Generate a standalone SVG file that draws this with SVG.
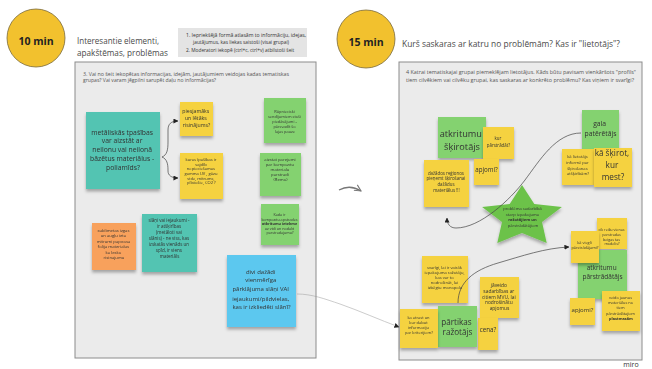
<svg xmlns="http://www.w3.org/2000/svg" width="652" height="369" viewBox="0 0 652 369">
<style>
  text { font-family: "Open Sans", "Liberation Sans", sans-serif; fill: #333; }
  .c { text-anchor: middle; }
  .title { fill: #4a4a4a; }
  .time { font-weight: bold; font-size: 10.5px; fill: #222; text-anchor: middle; }
  .panel { fill: #ebebeb; stroke: #8c8c8c; stroke-width: 1; }
  .hdr { font-size: 5.1px; fill: #555; }
  .y { fill: #f5d23f; }
  .g { fill: #84d270; }
  .t { fill: #52c4b2; }
  .b { fill: #5cc8ef; }
  .o { fill: #f8a15c; }
  .note { filter: url(#sh); }
  .conn { fill: none; stroke: #444; stroke-width: 0.7; }
</style>
<defs>
  <filter id="sh" x="-20%" y="-20%" width="140%" height="150%">
    <feDropShadow dx="0" dy="2.5" stdDeviation="1.6" flood-color="#000" flood-opacity="0.3"/>
  </filter>
  <marker id="ah" viewBox="0 0 6 6" refX="5.5" refY="3" markerWidth="5" markerHeight="5" markerUnits="userSpaceOnUse" orient="auto">
    <path d="M0,0 L6,3 L0,6 z" fill="#222"/>
  </marker>
  <marker id="big" viewBox="0 0 10 10" refX="9" refY="5" markerWidth="8" markerHeight="8" markerUnits="userSpaceOnUse" orient="auto">
    <path d="M1,1 L9,5 L1,9" fill="none" stroke="#777" stroke-width="1.3"/>
  </marker>
</defs>
<rect width="652" height="369" fill="#ffffff"/>

<!-- Left header -->
<g id="timer10">
  <circle cx="36" cy="38" r="29" fill="#f2c12e" stroke="#7a6a3a" stroke-width="0.8"/>
  <text class="time" x="36" y="45">10 min</text>
</g>
<g id="title-left">
  <text class="title" x="77" y="43.5" font-size="9" textLength="82" lengthAdjust="spacingAndGlyphs">Interesantie elementi,</text>
  <text class="title" x="77" y="55.5" font-size="9" textLength="91" lengthAdjust="spacingAndGlyphs">apakštēmas, problēmas</text>
</g>
<g id="instructions">
  <rect x="178" y="28" width="129" height="29" fill="#e4e4e4"/>
  <text x="186" y="36.8" font-size="4.8" fill="#555" textLength="120" lengthAdjust="spacingAndGlyphs">1. Iepriekšējā formā atlasām to informāciju, idejas,</text>
  <text x="193" y="44.3" font-size="4.8" fill="#555">jautājumus, kas liekas saistoši (visai grupai)</text>
  <text x="186" y="51.8" font-size="4.8" fill="#555">2. Moderatori iekopē (ctrl+c, ctrl+v) atbilstoši šeit</text>
</g>

<!-- Left panel -->
<g id="panel-left">
  <rect class="panel" x="75" y="62" width="241" height="296"/>
  <text class="hdr" x="83" y="75.5" textLength="206" lengthAdjust="spacingAndGlyphs">3. Vai no šeit iekopētas informacijas, idejām, jautājumiem veidojas kadas tematiskas</text>
  <text class="hdr" x="83" y="82">grupas? Vai varam jēgpilni sarupēt daļu no informācijas?</text>
</g>

<g id="note-metaliskas" class="note">
  <rect class="t" x="86" y="112" width="74" height="77"/>
  <text class="c" font-size="6.8" x="123">
    <tspan x="123" y="134.5">metāliskās tpašības</tspan>
    <tspan x="123" y="143.3">var aizstāt ar</tspan>
    <tspan x="123" y="152.1">neilonu vai neilonā</tspan>
    <tspan x="123" y="160.9">bāzētus materiālus -</tspan>
    <tspan x="123" y="169.7">poliamīds?</tspan>
  </text>
</g>
<g id="note-piesjamaks" class="note">
  <rect class="y" x="180" y="102" width="33" height="34"/>
  <text class="c" font-size="5.2">
    <tspan x="196.5" y="112.5">piesjamāks</tspan>
    <tspan x="196.5" y="119.5">un lētāks</tspan>
    <tspan x="196.5" y="127">risinājums?</tspan>
  </text>
</g>
<g id="note-kuras" class="note">
  <rect class="y" x="180" y="153" width="43" height="46"/>
  <text class="c" font-size="4.1">
    <tspan x="201.5" y="160.8">kuras īpašības ir</tspan>
    <tspan x="201.5" y="165.5">vajdīb</tspan>
    <tspan x="201.5" y="170">nepieciešamas</tspan>
    <tspan x="201.5" y="174.8">gamma UV , gāzu</tspan>
    <tspan x="201.5" y="179.6">vide, mitrums,</tspan>
    <tspan x="201.5" y="184.4">plīstošie, CO2 ?</tspan>
  </text>
</g>
<g id="note-rupnieciski" class="note">
  <rect class="g" x="264" y="98" width="42" height="45"/>
  <text class="c" font-size="3.9">
    <tspan x="285" y="113.4">Rūpnieciski</tspan>
    <tspan x="285" y="118.2">sendījumiem stoši</tspan>
    <tspan x="285" y="123">piedāvājumi -</tspan>
    <tspan x="285" y="127.8">pārsvadīt šo</tspan>
    <tspan x="285" y="132.6">lajas pauze</tspan>
  </text>
</g>
<g id="note-aizstat" class="note">
  <rect class="g" x="260" y="153" width="41" height="43"/>
  <text class="c" font-size="4.2">
    <tspan x="280.5" y="160.5">aizstāt pārējumi</tspan>
    <tspan x="280.5" y="165.5">par kompozītu</tspan>
    <tspan x="280.5" y="170.5">materiālu</tspan>
    <tspan x="280.5" y="175.5">pārstrādi</tspan>
    <tspan x="280.5" y="180.5">(Remo)</tspan>
  </text>
</g>
<g id="note-kada" class="note">
  <rect class="g" x="261" y="204" width="38" height="41"/>
  <text class="c" font-size="3.7">
    <tspan x="280" y="216.3">Kāda ir</tspan>
    <tspan x="280" y="220.8">kompozītu apstrādes</tspan>
    <tspan x="280" y="225.3" font-weight="bold">atkritumu ietekme</tspan>
    <tspan x="280" y="229.8">uz vidi un nodalīt</tspan>
    <tspan x="280" y="234.3">pārstrādājumu?</tspan>
  </text>
</g>
<g id="note-sublimetas" class="note">
  <rect class="o" x="92" y="223" width="44" height="47"/>
  <text class="c" font-size="4.2">
    <tspan x="114" y="231.5">sublimētas izgas</tspan>
    <tspan x="114" y="237">un augļu ietā</tspan>
    <tspan x="114" y="242.5">mitrumi papīrasa</tspan>
    <tspan x="114" y="248">folija materiālus</tspan>
    <tspan x="114" y="253.5">kā lesko</tspan>
    <tspan x="114" y="259">risinājumu</tspan>
  </text>
</g>
<g id="note-slani" class="note">
  <rect class="t" x="142" y="214" width="55" height="58"/>
  <text class="c" font-size="4.5">
    <tspan x="169.5" y="222.3">slāņi vai iejaukumi -</tspan>
    <tspan x="169.5" y="228.2">ir atšķirības</tspan>
    <tspan x="169.5" y="234.1">(metāloti vai</tspan>
    <tspan x="169.5" y="240">slānis) - ne viss, kas</tspan>
    <tspan x="169.5" y="245.9">izskatās vienāds un</tspan>
    <tspan x="169.5" y="251.8">spīd, ir viens</tspan>
    <tspan x="169.5" y="257.7">materiāls</tspan>
  </text>
</g>
<g id="note-divi" class="note">
  <rect class="b" x="227" y="255" width="69" height="72"/>
  <text class="c" font-size="6">
    <tspan x="261.5" y="273.8">divi dažādi</tspan>
    <tspan x="261.5" y="282.2">vienmērīga</tspan>
    <tspan x="261.5" y="291.4">pārklājuma slāņi VAI</tspan>
    <tspan x="261.5" y="300.7">iejaukumi/pildvielas,</tspan>
    <tspan x="261.5" y="309">kas ir izkliedēti slānī?</tspan>
  </text>
</g>

<!-- Right header -->
<g id="timer15">
  <circle cx="366" cy="39" r="29" fill="#f2c12e" stroke="#7a6a3a" stroke-width="0.8"/>
  <text class="time" x="366" y="46">15 min</text>
</g>
<g id="title-right">
  <text class="title" x="402" y="46.5" font-size="9" textLength="218" lengthAdjust="spacingAndGlyphs">Kurš saskaras ar katru no problēmām? Kas ir "lietotājs"?</text>
</g>

<g id="panel-right">
  <rect class="panel" x="399" y="62" width="243" height="298"/>
  <text class="hdr" x="406" y="73.8" textLength="230" lengthAdjust="spacingAndGlyphs">4 Katrai tematiskajai grupai piemeklējam lietotājus. Kāds būtu pavisam vienkāršots "profils"</text>
  <text class="hdr" x="406" y="81.5" textLength="228" lengthAdjust="spacingAndGlyphs">tiem cilvēkiem vai cilvēku grupai, kas saskaras ar konkrēto problēmu? Kas viņiem ir svarīgi?</text>
</g>

<g id="note-atkritumu-skirotajs" class="note">
  <rect class="g" x="438" y="117" width="48" height="41"/>
  <text class="c" font-size="9.2">
    <tspan x="462" y="137.2">atkritumu</tspan>
    <tspan x="462" y="150.2">šķirotājs</tspan>
  </text>
</g>
<g id="note-kur-parstradat" class="note">
  <rect class="y" x="483" y="127" width="31" height="32"/>
  <text class="c" font-size="4.4">
    <tspan x="498.5" y="139.5">kur</tspan>
    <tspan x="498.5" y="146.5">pārstrādāt?</tspan>
  </text>
</g>
<g id="note-dazados" class="note">
  <rect class="y" x="424" y="160" width="45" height="47"/>
  <text class="c" font-size="4.4">
    <tspan x="446.5" y="174.5">dažādos reģionos</tspan>
    <tspan x="446.5" y="180.3">pieņemt šķirošanai</tspan>
    <tspan x="446.5" y="186">dažādus</tspan>
    <tspan x="446.5" y="191.7">materiālus !!!</tspan>
  </text>
</g>
<g id="note-apjomi-1" class="note">
  <rect class="y" x="474" y="159" width="25" height="26"/>
  <text class="c" font-size="6.2" x="486.5" y="172.2">apjomi?</text>
</g>
<g id="note-gala" class="note">
  <rect class="g" x="582" y="110" width="37" height="42"/>
  <text class="c" font-size="6.8">
    <tspan x="600.5" y="126.4">gala</tspan>
    <tspan x="600.5" y="136.4">patērētājs</tspan>
  </text>
</g>
<g id="note-ka-lietotajs" class="note">
  <rect class="y" x="562" y="149" width="32" height="36"/>
  <text class="c" font-size="4.1">
    <tspan x="578" y="158.4">kā lietotājs</tspan>
    <tspan x="578" y="164">informē par</tspan>
    <tspan x="578" y="169.6">šķirošanas</tspan>
    <tspan x="578" y="175.2">atšķirībām?</tspan>
  </text>
</g>
<g id="note-ka-skirot" class="note">
  <rect class="y" x="594" y="148" width="38" height="39"/>
  <text class="c" font-size="8.2">
    <tspan x="613" y="155.9">kā šķirot,</tspan>
    <tspan x="613" y="167.9">kur</tspan>
    <tspan x="613" y="179.9">mest?</tspan>
  </text>
</g>
<g id="star-problema" class="note">
  <polygon points="522,185 534.3,204 561.9,207.1 542,222 546.7,242.9 522,233 497.3,242.9 502,222 482.1,207.1 509.7,204" fill="#6cc24a"/>
  <text class="c" font-size="4.1">
    <tspan x="523" y="210">problēma sadarbībā</tspan>
    <tspan x="523" y="215.5">starp iepakojuma</tspan>
    <tspan x="523" y="221" font-weight="bold">ražotājiem un</tspan>
    <tspan x="523" y="226.5">pārstrādātājiem</tspan>
  </text>
</g>
<g id="note-cik-reizu" class="note">
  <rect class="y" x="597" y="218" width="30" height="31"/>
  <text class="c" font-size="3.7">
    <tspan x="612" y="231.3">cik reižu vienas</tspan>
    <tspan x="612" y="236">pārstrādās</tspan>
    <tspan x="612" y="240.7">beigās tas</tspan>
    <tspan x="612" y="245.4">modelis?</tspan>
  </text>
</g>
<g id="note-atkritumu-parstradatajs" class="note">
  <rect class="g" x="578" y="250" width="49" height="49"/>
  <text class="c" font-size="6.5">
    <tspan x="602.5" y="270.3">atkritumu</tspan>
    <tspan x="602.5" y="279.3">pārstrādātājs</tspan>
  </text>
</g>
<g id="note-ka-viegli" class="note">
  <rect class="y" x="571" y="231" width="28" height="32"/>
  <text class="c" font-size="3.9">
    <tspan x="585" y="243.6">kā viegli</tspan>
    <tspan x="585" y="249">pārstrādājami?</tspan>
  </text>
</g>
<g id="note-apjomi-2" class="note">
  <rect class="y" x="570" y="298" width="25" height="27"/>
  <text class="c" font-size="6" x="582.5" y="312">apjomi?</text>
</g>
<g id="note-veido" class="note">
  <rect class="y" x="602" y="291" width="38" height="40"/>
  <text class="c" font-size="3.9">
    <tspan x="621" y="298.7">veido jaunus</tspan>
    <tspan x="621" y="304">materiālus no</tspan>
    <tspan x="621" y="309.2">tiem</tspan>
    <tspan x="621" y="314.5">pārstrādātajiem</tspan>
    <tspan x="621" y="319.7" font-weight="bold">plastmasām</tspan>
  </text>
</g>
<g id="note-svarigi" class="note">
  <rect class="y" x="422" y="256" width="46" height="47"/>
  <text class="c" font-size="4.1">
    <tspan x="445" y="269.4">svarīgi, lai ir vairāk</tspan>
    <tspan x="445" y="274.4">iepakojuma ražotāju,</tspan>
    <tspan x="445" y="279.4">kas var to</tspan>
    <tspan x="445" y="284.4">nodrošināt, lai</tspan>
    <tspan x="445" y="289.4">izbēgtu monopolu</tspan>
  </text>
</g>
<g id="note-javeido" class="note">
  <rect class="y" x="480" y="277" width="39" height="41"/>
  <text class="c" font-size="4.9">
    <tspan x="499.5" y="286.7">jāveido</tspan>
    <tspan x="499.5" y="292.6">sadarbības ar</tspan>
    <tspan x="499.5" y="298.5">citiem MVU, lai</tspan>
    <tspan x="499.5" y="304.4">nodrošinātu</tspan>
    <tspan x="499.5" y="310.3">apjomus</tspan>
  </text>
</g>
<g id="note-cena" class="note">
  <rect class="y" x="478" y="318" width="20" height="32"/>
  <text class="c" font-size="6.3" x="488" y="332.2">cena?</text>
</g>
<g id="note-partikas" class="note">
  <rect class="g" x="438" y="306" width="39" height="41"/>
  <text class="c" font-size="8.1">
    <tspan x="457.5" y="324.8">pārtikas</tspan>
    <tspan x="457.5" y="334.8">ražotājs</tspan>
  </text>
</g>
<g id="note-ka-atrast" class="note">
  <rect class="y" x="400" y="309" width="38" height="39"/>
  <text class="c" font-size="4">
    <tspan x="419" y="319.4">kā atrast un</tspan>
    <tspan x="419" y="324.2">kur dabūt</tspan>
    <tspan x="419" y="329">informāciju</tspan>
    <tspan x="419" y="333.8">par kritērijiem?</tspan>
  </text>
</g>

<!-- Connectors -->
<g id="connectors">
  <path class="conn" d="M162,157 C167,155 168,150 168,142 L168,130 C168,124 171,121 178,121" marker-end="url(#ah)"/>
  <path class="conn" d="M162,157 C167,159 168,164 168,170 L168,171 C168,175 171,178 178,178" marker-end="url(#ah)"/>
  <path d="M297,294 C312,294 325,299 340,304 C360,311 380,320 399,327" fill="none" stroke="#999" stroke-width="0.5" marker-end="url(#ah)"/>
  <path d="M339,190 Q350,184 361,191" fill="none" stroke="#777" stroke-width="1.3" marker-end="url(#big)"/>
  <path class="conn" d="M581,133 C556,133 540,160 525,180 C510,200 480,228 456,228 C450,228 447,224 447,218" marker-end="url(#ah)"/>
  <path class="conn" d="M458,303 C458,282 474,270 498,263 C522,256 545,248 569,247" marker-end="url(#ah)"/>
</g>

<text x="631" y="367" font-size="7" fill="#bdbdbd" class="c">miro</text>
</svg>
